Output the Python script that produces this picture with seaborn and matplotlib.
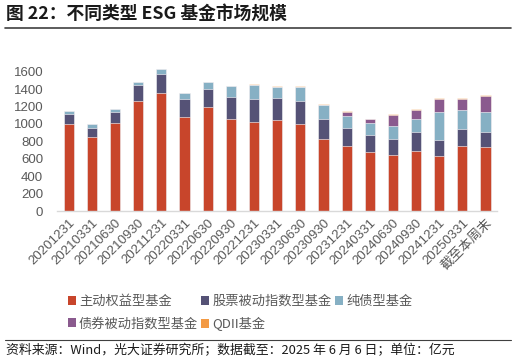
import numpy as np
import pandas as pd
import matplotlib
matplotlib.use('Agg')
import matplotlib.pyplot as plt
import seaborn as sns
from matplotlib.patches import Patch
from matplotlib.lines import Line2D

# 报告期
periods = ['20201231', '20210331', '20210630', '20210930', '20211231', '20220331',
           '20220630', '20220930', '20221231', '20230331', '20230630', '20230930',
           '20231231', '20240331', '20240630', '20240930', '20241231', '20250331',
           '截至本周末']

# 规模（亿元）
active_equity = [1000, 850, 1015, 1260, 1350, 1080, 1195, 1055, 1027, 1046,
                 1000, 830, 750, 675, 645, 693, 632, 750, 732]
stock_passive = [115, 108, 123, 184, 228, 207, 207, 259, 257, 257,
                 261, 231, 200, 199, 186, 219, 184, 189, 180]
pure_bond = [34, 38, 34, 35, 58, 73, 77, 123, 164, 126,
             168, 161, 146, 137, 150, 142, 326, 226, 226]
bond_passive = [0, 0, 0, 0, 0, 0, 0, 0, 0, 0,
                0, 0, 46, 43, 126, 107, 149, 126, 188]
qdii = [0, 0, 0, 0, 0, 0, 0, 0, 8, 12,
        12, 12, 11, 7, 12, 8, 12, 8, 7]

series_names = ['主动权益型基金', '股票被动指数型基金', '纯债型基金', '债券被动指数型基金', 'QDII基金']
colors = ['#C8452B', '#555276', '#86B0C4', '#8A5A8E', '#F39A44']

sns.set_theme(style='white')
plt.rcParams['font.family'] = ['Noto Sans CJK SC', 'DejaVu Sans']
tick_font = ['Liberation Sans', 'Noto Sans CJK SC']

df = pd.DataFrame({'period': periods,
                   series_names[0]: active_equity,
                   series_names[1]: stock_passive,
                   series_names[2]: pure_bond,
                   series_names[3]: bond_passive,
                   series_names[4]: qdii})
cum = df[series_names].cumsum(axis=1)

fig = plt.figure(figsize=(5.2, 3.61), dpi=100)
ax = fig.add_axes([0.11, 0.4155, 0.846, 0.41])

# 叠加累计值画出堆积柱
for name, c in reversed(list(zip(series_names, colors))):
    sns.barplot(x=df['period'], y=cum[name], color=c, saturation=1, width=0.44,
                edgecolor='white', linewidth=0.4, ax=ax)

ax.set_xlim(-0.5, len(periods) - 0.5)
ax.set_ylim(0, 1700)
ax.set_yticks(range(0, 1601, 200))
ax.set_xlabel('')
ax.set_ylabel('')
for s in ['left', 'top', 'right']:
    ax.spines[s].set_visible(False)
ax.spines['bottom'].set_color('#D9D9D9')
ax.spines['bottom'].set_linewidth(1)

ax.tick_params(axis='y', length=0, pad=10, labelsize=9.5, labelcolor='#595959')
ax.tick_params(axis='x', which='major', length=0, pad=4, labelsize=9.5, labelcolor='#595959')
ax.set_xticks(np.arange(-0.5, len(periods), 1), minor=True)
ax.tick_params(axis='x', which='minor', length=3, width=1, color='#D9D9D9', direction='out')
plt.setp(ax.get_xticklabels(), rotation=45, ha='right', rotation_mode='anchor', family=tick_font)
plt.setp(ax.get_yticklabels(), family=tick_font)

handles = [Patch(facecolor=c, edgecolor='none') for c in colors]
order = [0, 3, 1, 4, 2]
fig.legend([handles[i] for i in order], [series_names[i] for i in order],
           ncol=3, loc='upper left', bbox_to_anchor=(0.13, 1 - 295 / 361),
           frameon=False, fontsize=9.5, labelcolor='#595959',
           handlelength=0.6, handleheight=0.6, handletextpad=0.25,
           columnspacing=0.25, labelspacing=0.7, borderpad=0, borderaxespad=0)

fig.text(0.012, 1 - 14 / 361, '图 22：不同类型 ESG 基金市场规模', fontsize=12.8,
         fontweight='bold', va='center', color='#1a1a1a')
fig.add_artist(Line2D([0.01, 0.982], [1 - 28 / 361] * 2, color='#404040', lw=1.2))
fig.add_artist(Line2D([0.01, 0.982], [1 - 340 / 361] * 2, color='#404040', lw=0.8))
fig.text(0.012, 1 - 351 / 361, '资料来源：Wind，光大证券研究所；数据截至：2025 年 6 月 6 日；单位：亿元',
         fontsize=9.3, va='center', color='#1a1a1a')

fig.savefig('out.png', dpi=100)
